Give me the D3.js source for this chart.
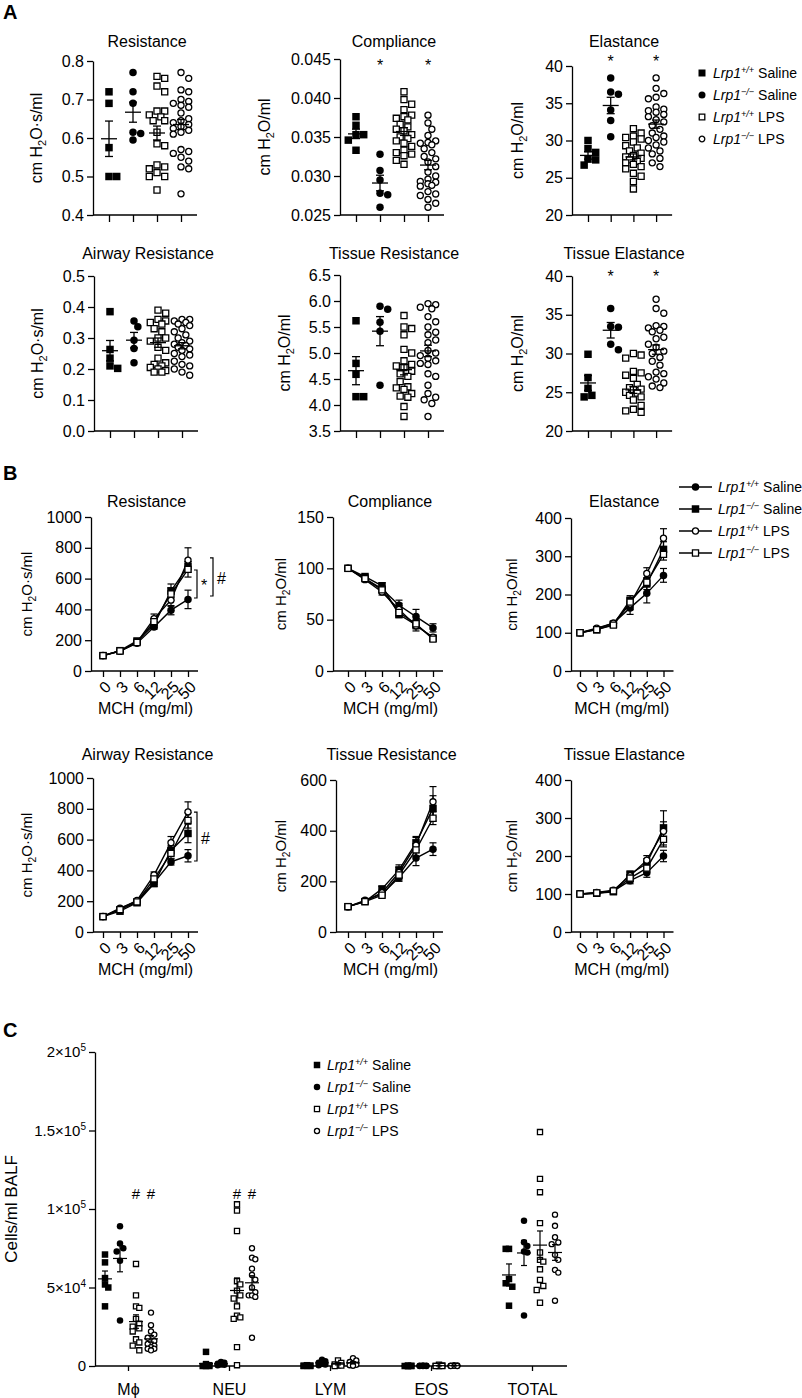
<!DOCTYPE html>
<html>
<head>
<meta charset="utf-8">
<script src="https://cdn.jsdelivr.net/npm/d3@7"></script>
<style>
  body { margin: 0; background: #fff; }
  text { font-family: "Liberation Sans", Arial, Helvetica, sans-serif; fill: #000; }
</style>
</head>
<body>
<svg id="chart" width="802" height="1398"></svg>
<script>
// ---- labels ----
var genotypes = ["+/+", "\u2212/\u2212", "+/+", "\u2212/\u2212"];
var treatments = ["Saline", "Saline", "LPS", "LPS"];
var doses = ["0", "3", "6", "12", "25", "50"];
var cellTypes = ["M\u03d5", "NEU", "LYM", "EOS", "TOTAL"];

// ---- A: lung mechanics, one array per group ----
var aResistance = [
  [0.72, 0.69, 0.575, 0.50, 0.50],
  [0.77, 0.72, 0.69, 0.615, 0.612, 0.595],
  [0.76, 0.755, 0.735, 0.72, 0.67, 0.67, 0.66, 0.655, 0.645, 0.645, 0.615, 0.585, 0.58, 0.53, 0.525, 0.52, 0.51, 0.50, 0.50, 0.465],
  [0.77, 0.755, 0.725, 0.72, 0.70, 0.695, 0.69, 0.685, 0.68, 0.665, 0.65, 0.645, 0.64, 0.635, 0.63, 0.625, 0.62, 0.615, 0.61, 0.57, 0.565, 0.56, 0.55, 0.54, 0.525, 0.52, 0.455]
];
var aResistanceMean = [0.598, 0.667, 0.613, 0.635];
var aResistanceSem = [0.046, 0.026, 0.018, 0.013];

var aCompliance = [
  [0.0376, 0.0365, 0.0353, 0.0353, 0.0346, 0.0333],
  [0.0328, 0.0307, 0.0295, 0.0278, 0.0276, 0.0260],
  [0.0408, 0.0398, 0.0392, 0.0385, 0.0378, 0.0376, 0.0374, 0.0372, 0.0366, 0.0363, 0.0360, 0.0358, 0.0353, 0.0350, 0.0348, 0.0345, 0.0342, 0.0338, 0.0333, 0.0330, 0.0328, 0.0326, 0.0320, 0.0315],
  [0.0378, 0.0368, 0.0360, 0.0352, 0.0345, 0.0343, 0.0342, 0.0340, 0.0335, 0.0330, 0.0325, 0.0322, 0.0318, 0.0312, 0.0305, 0.0300, 0.0296, 0.0293, 0.0292, 0.0290, 0.0288, 0.0287, 0.0280, 0.0277, 0.0275, 0.0270, 0.0265, 0.0260]
];
var aComplianceMean = [0.0354, 0.0291, 0.0357, 0.0314];
var aComplianceSem = [0.0006, 0.0010, 0.0005, 0.0006];

var aElastance = [
  [30.0, 28.9, 28.4, 27.5, 27.4, 26.7],
  [38.4, 36.5, 36.2, 34.1, 32.7, 30.5],
  [31.6, 31.0, 30.6, 30.4, 30.2, 29.8, 29.3, 29.0, 28.6, 28.3, 28.0, 27.8, 27.6, 27.4, 27.2, 27.0, 26.8, 26.5, 26.2, 25.6, 25.2, 24.5, 23.5],
  [38.4, 37.0, 36.3, 35.8, 35.6, 34.5, 34.2, 34.0, 33.8, 33.5, 33.2, 32.8, 32.5, 32.0, 31.5, 31.0, 30.6, 30.4, 30.0, 29.8, 29.4, 29.0, 28.6, 28.2, 27.6, 27.0, 26.5]
];
var aElastanceMean = [28.0, 34.7, 27.8, 32.2];
var aElastanceSem = [0.5, 1.1, 0.4, 0.55];

var aAirway = [
  [0.385, 0.263, 0.235, 0.21, 0.202],
  [0.355, 0.336, 0.293, 0.266, 0.22],
  [0.39, 0.38, 0.36, 0.355, 0.35, 0.345, 0.33, 0.32, 0.30, 0.30, 0.29, 0.27, 0.26, 0.235, 0.22, 0.215, 0.21, 0.205, 0.20, 0.195, 0.19, 0.19],
  [0.36, 0.36, 0.355, 0.35, 0.345, 0.34, 0.33, 0.32, 0.31, 0.30, 0.29, 0.285, 0.28, 0.275, 0.27, 0.265, 0.26, 0.25, 0.245, 0.24, 0.225, 0.215, 0.21, 0.20, 0.19, 0.18]
];
var aAirwayMean = [0.259, 0.293, 0.285, 0.275];
var aAirwaySem = [0.033, 0.025, 0.015, 0.010];

var aTissueRes = [
  [5.62, 4.80, 4.59, 4.16, 4.16],
  [5.90, 5.84, 5.59, 5.42, 4.38],
  [5.72, 5.5, 5.47, 5.35, 5.07, 5.0, 4.85, 4.78, 4.75, 4.72, 4.65, 4.6, 4.55, 4.45, 4.35, 4.33, 4.3, 4.22, 4.17, 4.15, 3.97, 3.78],
  [5.95, 5.93, 5.88, 5.85, 5.7, 5.6, 5.5, 5.4, 5.35, 5.25, 5.2, 5.05, 5.0, 4.95, 4.9, 4.85, 4.8, 4.78, 4.6, 4.55, 4.38, 4.22, 4.15, 4.1, 4.03, 3.78]
];
var aTissueResMean = [4.66, 5.42, 4.68, 5.04];
var aTissueResSem = [0.27, 0.28, 0.10, 0.11];

var aTissueEl = [
  [29.9, 26.9, 25.5, 24.6, 24.4],
  [35.8, 33.5, 33.4, 31.2, 30.5],
  [30.0, 29.8, 29.4, 27.7, 27.5, 27.2, 26.8, 26.0, 25.6, 25.4, 25.3, 25.0, 24.9, 24.6, 24.4, 24.0, 23.3, 22.8, 22.6, 22.4],
  [37.0, 35.8, 35.2, 33.6, 33.5, 33.3, 33.0, 32.8, 32.1, 31.9, 31.2, 30.8, 30.3, 30.0, 29.5, 29.0, 28.5, 27.6, 27.4, 27.0, 26.7, 26.2, 25.8, 25.6]
];
var aTissueElMean = [26.2, 33.0, 25.3, 30.5];
var aTissueElSem = [0.95, 1.0, 0.45, 0.6];

// ---- B: methacholine dose response, series order: WT saline, KO saline, WT LPS, KO LPS ----
var bResistance = [[100, 130, 180, 285, 395, 465], [100, 132, 195, 300, 520, 680], [100, 130, 185, 340, 460, 720], [100, 130, 185, 320, 500, 660]];
var bResistanceSem = [[0, 8, 10, 15, 30, 60], [0, 8, 12, 20, 45, 30], [0, 8, 12, 30, 40, 80], [0, 8, 12, 20, 40, 50]];
var bCompliance = [[100, 90, 80, 64, 53, 42], [100, 92, 83, 55, 45, 32], [100, 89, 77, 60, 44, 33], [100, 90, 79, 57, 46, 31]];
var bComplianceSem = [[0, 2, 3, 5, 7, 4], [0, 2, 3, 3, 4, 2], [0, 2, 3, 6, 5, 2], [0, 2, 3, 4, 4, 2]];
var bElastance = [[100, 110, 125, 165, 203, 250], [100, 108, 122, 185, 228, 318], [100, 112, 125, 175, 255, 347], [100, 108, 120, 180, 232, 305]];
var bElastanceSem = [[0, 3, 5, 17, 25, 18], [0, 3, 4, 12, 15, 20], [0, 3, 5, 15, 15, 25], [0, 3, 4, 12, 12, 15]];
var bAirway = [[100, 155, 200, 320, 455, 495], [100, 135, 190, 315, 530, 640], [100, 150, 205, 370, 580, 780], [100, 145, 195, 345, 510, 725]];
var bAirwaySem = [[0, 8, 10, 15, 20, 40], [0, 8, 10, 20, 30, 60], [0, 10, 12, 20, 40, 65], [0, 8, 10, 20, 35, 50]];
var bTissueRes = [[100, 125, 150, 215, 292, 327], [100, 120, 170, 245, 352, 488], [100, 122, 155, 235, 343, 514], [100, 120, 145, 225, 324, 449]];
var bTissueResSem = [[0, 6, 10, 15, 30, 25], [0, 6, 10, 20, 25, 50], [0, 6, 10, 20, 30, 60], [0, 6, 10, 20, 25, 25]];
var bTissueEl = [[100, 102, 108, 135, 156, 200], [100, 102, 106, 152, 181, 274], [100, 104, 110, 148, 189, 265], [100, 103, 108, 142, 168, 244]];
var bTissueElSem = [[0, 2, 4, 8, 12, 15], [0, 2, 4, 8, 12, 45], [0, 2, 4, 8, 12, 25], [0, 2, 4, 8, 12, 20]];

// ---- C: BALF cell counts ----
var cellMac = [
  [71000, 66000, 56000, 52000, 50000, 38000],
  [89000, 78000, 75000, 73000, 67000, 29000],
  [65000, 45000, 38000, 37000, 30000, 27000, 25000, 24000, 22000, 17000, 15000, 13000, 10000],
  [34000, 26000, 22000, 20000, 18000, 16000, 14000, 13000, 12000, 11000, 11000, 10000]
];
var cellNeu = [
  [9000, 1000, 500, 0, 0, 0],
  [2500, 2000, 1500, 1000, 800, 500],
  [103000, 99000, 86000, 54000, 52000, 48000, 45000, 43000, 38000, 32000, 31000, 30000, 12000, 500],
  [75000, 69000, 68000, 62000, 58000, 55000, 50000, 47000, 45000, 45000, 44000, 18000]
];
var cellLym = [
  [500, 300, 200, 100, 0, 0],
  [4000, 3000, 2000, 1500, 1000, 500],
  [3500, 2000, 1000, 500, 300, 0],
  [5000, 3500, 2500, 1500, 800, 500, 200]
];
var cellEos = [
  [200, 100, 0, 0, 0, 0],
  [300, 200, 100, 0, 0, 0],
  [800, 300, 100, 0, 0, 0],
  [500, 300, 200, 100, 0, 0]
];
var cellTotal = [
  [74600, 74600, 55400, 52700, 50500, 38400],
  [92500, 78900, 76500, 72900, 72300, 32200],
  [149000, 119200, 110700, 91000, 72300, 67600, 66500, 61600, 54800, 51000, 48400, 40300],
  [96400, 89300, 82000, 78700, 77600, 70800, 67600, 61200, 59500, 41600]
];
var cellMean = [[55500, 68500, 28300, 17300], [1500, 1400, 48100, 53000], [200, 2000, 1200, 2000], [50, 100, 200, 200], [58000, 72000, 77000, 72300]];
var cellSem = [[5000, 8500, 4300, 2100], [1400, 300, 8000, 4500], [100, 500, 500, 700], [50, 50, 100, 100], [7000, 8000, 9000, 5000]];
var cellTicks = [0, 50000, 100000, 150000, 200000];
var cellTickLabels = [["0", ""], ["5\u00d710", "4"], ["1\u00d710", "5"], ["1.5\u00d710", "5"], ["2\u00d710", "5"]];

// ---------------------------------------------------------------
var svg = d3.select("#chart");
var groupStyle = [{shape: "sq", fill: true}, {shape: "ci", fill: true}, {shape: "sq", fill: false}, {shape: "ci", fill: false}];
var seriesStyle = [{shape: "ci", fill: true}, {shape: "sq", fill: true}, {shape: "ci", fill: false}, {shape: "sq", fill: false}];

function symPath(shape, size) {
  if (shape == "sq") return d3.symbol().type(d3.symbolSquare).size(size * size)();
  return d3.symbol().type(d3.symbolCircle).size(Math.PI * size * size / 4)();
}

function drawMarker(g, st, size, x, y) {
  g.append("path")
    .attr("d", symPath(st.shape, st.fill ? size : size - 1.4))
    .attr("transform", "translate(" + x + "," + y + ")")
    .attr("fill", st.fill ? "#000" : "#fff")
    .attr("stroke", "#000")
    .attr("stroke-width", st.fill ? 0 : 1.3);
}

// column scatter: nudge points sideways when they would overlap, but keep
// them inside a narrow column (overlap is allowed once the column is full)
function swarm(vals, y, cx, sep, maxOff) {
  var pts = vals.map(function(v) { return {v: v, py: y(v)}; }).sort(function(a, b) { return a.py - b.py; });
  var placed = [], step = sep * 0.55;
  pts.forEach(function(p) {
    var best = 0, bestD = -1;
    for (var k = 0; k < 40; k++) {
      var off = k == 0 ? 0 : (k % 2 ? 1 : -1) * Math.ceil(k / 2) * step;
      if (Math.abs(off) > maxOff) break;
      var d = d3.min(placed, function(q) { return Math.hypot(q.px - (cx + off), q.py - p.py); });
      if (d === undefined) d = Infinity;
      if (d >= sep) { best = off; break; }
      if (d > bestD) { bestD = d; best = off; }
    }
    p.px = cx + best;
    placed.push(p);
  });
  return placed;
}

function styleAxis(g, size) {
  g.attr("font-family", null).attr("font-size", size);
  g.selectAll("path, line").attr("stroke", "#000").attr("stroke-width", 1.3);
  g.selectAll("text").attr("fill", "#000");
}

function title(x, y, txt) {
  svg.append("text").attr("x", x).attr("y", y).attr("text-anchor", "middle").style("font-size", "16px").text(txt);
}

function yLabel(x, y, rest, size) {
  var t = svg.append("text")
    .attr("transform", "translate(" + x + "," + y + ") rotate(-90)")
    .attr("text-anchor", "middle").attr("dy", "0.35em")
    .style("font-size", size + "px");
  t.append("tspan").text("cm H");
  t.append("tspan").attr("dy", 4).style("font-size", (size * 0.68) + "px").text("2");
  t.append("tspan").attr("dy", -4).text("O" + rest);
}

function legendText(g, x, y, i, size) {
  var t = g.append("text").attr("x", x).attr("y", y).attr("dy", "0.35em").style("font-size", size + "px");
  t.append("tspan").style("font-style", "italic").text("Lrp1");
  t.append("tspan").attr("dy", -5).style("font-style", "italic").style("font-size", (size * 0.65) + "px").text(genotypes[i]);
  t.append("tspan").attr("dy", 5).text(" " + treatments[i]);
}

function panelLetter(x, y, txt) {
  svg.append("text").attr("x", x).attr("y", y).style("font-size", "20px").style("font-weight", "bold").text(txt);
}

// ---- A panels ----
function dotPanel(cfg, data, means, sems, stars) {
  var y = d3.scaleLinear().domain(cfg.domain).range([cfg.bottom, cfg.top]);
  var x0 = cfg.x0, first = x0 + 16, xEnd = first + 3 * cfg.step + 16;
  var x = d3.scalePoint().domain([0, 1, 2, 3]).range([first, first + 3 * cfg.step]);

  var ya = svg.append("g").attr("transform", "translate(" + x0 + ",0)")
    .call(d3.axisLeft(y).ticks(cfg.ticks).tickSize(6).tickSizeOuter(0).tickPadding(3).tickFormat(d3.format(cfg.fmt)));
  styleAxis(ya, 16);
  var xa = svg.append("g").attr("transform", "translate(0," + cfg.bottom + ")")
    .call(d3.axisBottom(x).tickSize(7).tickSizeOuter(0).tickFormat(""));
  xa.select(".domain").remove();
  xa.append("line").attr("x1", x0).attr("x2", xEnd).attr("y1", 0).attr("y2", 0);
  styleAxis(xa, 16);

  data.forEach(function(vals, gi) {
    var g = svg.append("g");
    swarm(vals, y, x(gi), 7, 10).forEach(function(p) { drawMarker(g, groupStyle[gi], 7.5, p.px, p.py); });
  });
  means.forEach(function(m, gi) {
    var cx = x(gi), g = svg.append("g").attr("stroke", "#000").attr("stroke-width", 1.3);
    g.append("line").attr("x1", cx - 8).attr("x2", cx + 8).attr("y1", y(m)).attr("y2", y(m));
    g.append("line").attr("x1", cx).attr("x2", cx).attr("y1", y(m - sems[gi])).attr("y2", y(m + sems[gi]));
    [m - sems[gi], m + sems[gi]].forEach(function(v) {
      g.append("line").attr("x1", cx - 4).attr("x2", cx + 4).attr("y1", y(v)).attr("y2", y(v));
    });
  });
  (stars || []).forEach(function(gi) {
    svg.append("text").attr("x", x(gi)).attr("y", cfg.starY).attr("text-anchor", "middle").style("font-size", "16px").text("*");
  });
  title((x0 + xEnd) / 2 + 2, cfg.titleY, cfg.title);
  yLabel(cfg.labelX, (cfg.top + cfg.bottom) / 2, cfg.unit, 16);
}

dotPanel({title: "Resistance", domain: [0.4, 0.8], ticks: 5, fmt: ".1f", x0: 93, step: 24, top: 61, bottom: 215, titleY: 47, labelX: 36, unit: "\u00b7s/ml"},
  aResistance, aResistanceMean, aResistanceSem);
dotPanel({title: "Compliance", domain: [0.025, 0.045], ticks: 5, fmt: ".3f", x0: 340, step: 24, top: 59, bottom: 215, titleY: 47, labelX: 264, unit: "/ml", starY: 71},
  aCompliance, aComplianceMean, aComplianceSem, [1, 3]);
dotPanel({title: "Elastance", domain: [20, 40], ticks: 5, fmt: "d", x0: 572, step: 22.7, top: 66, bottom: 215, titleY: 47, labelX: 517, unit: "/ml", starY: 67},
  aElastance, aElastanceMean, aElastanceSem, [1, 3]);
dotPanel({title: "Airway Resistance", domain: [0, 0.5], ticks: 5, fmt: ".1f", x0: 94, step: 24, top: 276, bottom: 431, titleY: 259, labelX: 37, unit: "\u00b7s/ml"},
  aAirway, aAirwayMean, aAirwaySem);
dotPanel({title: "Tissue Resistance", domain: [3.5, 6.5], ticks: 6, fmt: ".1f", x0: 340, step: 24, top: 275, bottom: 431, titleY: 259, labelX: 284, unit: "/ml"},
  aTissueRes, aTissueResMean, aTissueResSem);
dotPanel({title: "Tissue Elastance", domain: [20, 40], ticks: 5, fmt: "d", x0: 572, step: 22.7, top: 276, bottom: 431, titleY: 259, labelX: 517, unit: "/ml", starY: 282},
  aTissueEl, aTissueElMean, aTissueElSem, [1, 3]);

var legA = svg.append("g");
genotypes.forEach(function(d, i) {
  drawMarker(legA, groupStyle[i], 7, 702, 73 + i * 22);
  legendText(legA, 713, 73 + i * 22, i, 14);
});

// ---- B panels ----
function linePanel(cfg, series, sems, brackets) {
  var y = d3.scaleLinear().domain([0, cfg.max]).range([cfg.bottom, cfg.top]);
  var first = cfg.x0 + cfg.t0, last = first + 5 * cfg.step, xEnd = last + 10;
  var x = d3.scalePoint().domain(doses).range([first, last]);

  var ya = svg.append("g").attr("transform", "translate(" + cfg.x0 + ",0)")
    .call(d3.axisLeft(y).ticks(cfg.ticks).tickSize(6).tickSizeOuter(0).tickPadding(3).tickFormat(d3.format("d")));
  styleAxis(ya, 16);
  var xa = svg.append("g").attr("transform", "translate(0," + cfg.bottom + ")")
    .call(d3.axisBottom(x).tickSize(6).tickSizeOuter(0).tickFormat(""));
  xa.select(".domain").remove();
  xa.append("line").attr("x1", cfg.x0).attr("x2", xEnd).attr("y1", 0).attr("y2", 0);
  styleAxis(xa, 16);
  doses.forEach(function(d) {
    svg.append("text")
      .attr("transform", "translate(" + (x(d) + 5) + "," + (cfg.bottom + 13) + ") rotate(-45)")
      .attr("text-anchor", "end").attr("dy", "0.35em").style("font-size", "16px").text(d);
  });
  svg.append("text").attr("x", first + 2.5 * cfg.step).attr("y", cfg.bottom + 43)
    .attr("text-anchor", "middle").style("font-size", "16px").text("MCH (mg/ml)");

  var line = d3.line().x(function(d, i) { return x(doses[i]); }).y(function(d) { return y(d); });
  series.forEach(function(s, si) {
    var g = svg.append("g").attr("stroke", "#000").attr("stroke-width", 1.2);
    s.forEach(function(v, i) {
      var e = sems[si][i];
      if (!e) return;
      var cx = x(doses[i]);
      g.append("line").attr("x1", cx).attr("x2", cx).attr("y1", y(v - e)).attr("y2", y(v + e));
      [v - e, v + e].forEach(function(w) {
        g.append("line").attr("x1", cx - 3.5).attr("x2", cx + 3.5).attr("y1", y(w)).attr("y2", y(w));
      });
    });
  });
  series.forEach(function(s) {
    svg.append("path").datum(s).attr("d", line).attr("fill", "none").attr("stroke", "#000").attr("stroke-width", 1.4);
  });
  series.forEach(function(s, si) {
    var g = svg.append("g");
    s.forEach(function(v, i) { drawMarker(g, seriesStyle[si], 7.5, x(doses[i]), y(v)); });
  });
  (brackets || []).forEach(function(b) {
    var bx = x("50") + b.dx;
    svg.append("path")
      .attr("d", "M" + (bx - 3) + "," + y(b.from) + "H" + bx + "V" + y(b.to) + "H" + (bx - 3))
      .attr("fill", "none").attr("stroke", "#000").attr("stroke-width", 1.2);
    svg.append("text").attr("x", bx + 4).attr("y", (y(b.from) + y(b.to)) / 2).attr("dy", "0.45em")
      .style("font-size", "16px").text(b.label);
  });
  title((cfg.x0 + xEnd) / 2 + 2, cfg.titleY, cfg.title);
  yLabel(cfg.labelX, (cfg.top + cfg.bottom) / 2, cfg.unit, 15);
}

var bracketsRes = [{from: 656, to: 474, dx: 9, label: "*"}, {from: 734, to: 487, dx: 25, label: "#"}];
var bracketsAirway = [{from: 779, to: 461, dx: 9, label: "#"}];

linePanel({title: "Resistance", max: 1000, ticks: 5, x0: 91, t0: 12, step: 17, top: 517, bottom: 671, titleY: 507, labelX: 27, unit: "\u00b7s/ml"},
  bResistance, bResistanceSem, bracketsRes);
linePanel({title: "Compliance", max: 150, ticks: 3, x0: 333, t0: 15, step: 17, top: 517, bottom: 671, titleY: 507, labelX: 281, unit: "/ml"},
  bCompliance, bComplianceSem);
linePanel({title: "Elastance", max: 400, ticks: 4, x0: 571, t0: 9, step: 16.7, top: 518, bottom: 671, titleY: 507, labelX: 512, unit: "/ml"},
  bElastance, bElastanceSem);
linePanel({title: "Airway Resistance", max: 1000, ticks: 5, x0: 93, t0: 10, step: 17, top: 778, bottom: 932, titleY: 760, labelX: 27, unit: "\u00b7s/ml"},
  bAirway, bAirwaySem, bracketsAirway);
linePanel({title: "Tissue Resistance", max: 600, ticks: 3, x0: 336, t0: 12, step: 17, top: 780, bottom: 932, titleY: 760, labelX: 281, unit: "/ml"},
  bTissueRes, bTissueResSem);
linePanel({title: "Tissue Elastance", max: 400, ticks: 4, x0: 571, t0: 9, step: 16.7, top: 780, bottom: 932, titleY: 760, labelX: 512, unit: "/ml"},
  bTissueEl, bTissueElSem);

var legB = svg.append("g");
genotypes.forEach(function(d, i) {
  var ly = 487 + i * 22;
  legB.append("line").attr("x1", 679).attr("x2", 712).attr("y1", ly).attr("y2", ly).attr("stroke", "#000").attr("stroke-width", 1.4);
  drawMarker(legB, seriesStyle[i], 7.5, 695.5, ly);
  legendText(legB, 718, ly, i, 14);
});

// ---- C panel ----
(function() {
  var top = 1052, bottom = 1366, x0 = 95, xEnd = 567;
  var y = d3.scaleLinear().domain([0, 200000]).range([bottom, top]);
  var x = d3.scalePoint().domain(cellTypes).range([128, 532]);
  var offsets = [-23, -8, 8, 23];
  var cellData = [cellMac, cellNeu, cellLym, cellEos, cellTotal];

  var ya = svg.append("g").attr("transform", "translate(" + x0 + ",0)")
    .call(d3.axisLeft(y).tickValues(cellTicks).tickSize(6).tickSizeOuter(0).tickFormat(""));
  styleAxis(ya, 15);
  cellTicks.forEach(function(v, i) {
    var t = svg.append("text").attr("x", x0 - 9).attr("y", y(v)).attr("dy", "0.35em")
      .attr("text-anchor", "end").style("font-size", "15px");
    t.append("tspan").text(cellTickLabels[i][0]);
    if (cellTickLabels[i][1]) t.append("tspan").attr("dy", -6).style("font-size", "10px").text(cellTickLabels[i][1]);
  });
  var xa = svg.append("g").attr("transform", "translate(0," + bottom + ")")
    .call(d3.axisBottom(x).tickSize(5).tickSizeOuter(0).tickPadding(13));
  xa.select(".domain").remove();
  xa.append("line").attr("x1", x0).attr("x2", xEnd).attr("y1", 0).attr("y2", 0);
  styleAxis(xa, 16);

  cellData.forEach(function(cat, ci) {
    cat.forEach(function(vals, gi) {
      var g = svg.append("g");
      swarm(vals, y, x(cellTypes[ci]) + offsets[gi], 6, 6).forEach(function(p) { drawMarker(g, groupStyle[gi], 6.5, p.px, p.py); });
    });
    cellMean[ci].forEach(function(m, gi) {
      var cx = x(cellTypes[ci]) + offsets[gi], e = cellSem[ci][gi];
      var g = svg.append("g").attr("stroke", "#000").attr("stroke-width", 1.2);
      g.append("line").attr("x1", cx - 7).attr("x2", cx + 7).attr("y1", y(m)).attr("y2", y(m));
      g.append("line").attr("x1", cx).attr("x2", cx).attr("y1", y(Math.max(0, m - e))).attr("y2", y(m + e));
      [m - e, m + e].forEach(function(v) {
        if (v < 0) return;
        g.append("line").attr("x1", cx - 3).attr("x2", cx + 3).attr("y1", y(v)).attr("y2", y(v));
      });
    });
  });
  // significance marks above LPS groups
  [[0, 2], [0, 3], [1, 2], [1, 3]].forEach(function(p) {
    svg.append("text").attr("x", x(cellTypes[p[0]]) + offsets[p[1]]).attr("y", y(110000)).attr("dy", "0.35em")
      .attr("text-anchor", "middle").style("font-size", "15px").text("#");
  });
  svg.append("text").attr("transform", "translate(11," + ((top + bottom) / 2) + ") rotate(-90)")
    .attr("text-anchor", "middle").attr("dy", "0.35em").style("font-size", "17px").text("Cells/ml BALF");

  var legC = svg.append("g");
  genotypes.forEach(function(d, i) {
    drawMarker(legC, groupStyle[i], 6.5, 317, 1065 + i * 22);
    legendText(legC, 327, 1065 + i * 22, i, 14);
  });
})();

panelLetter(3, 19, "A");
panelLetter(3, 480, "B");
panelLetter(3, 1037, "C");
</script>
</body>
</html>
